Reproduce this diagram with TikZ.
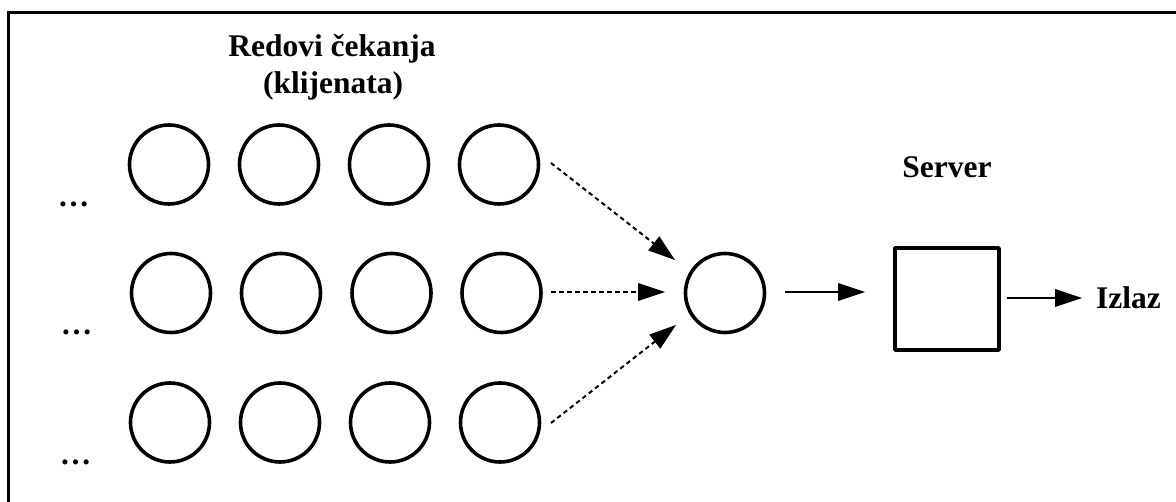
\documentclass[tikz,border=0pt]{standalone}
\usepackage{fontspec}
\setmainfont{Liberation Serif}
\usetikzlibrary{arrows.meta,calc}
\begin{document}
\begin{tikzpicture}[x=1pt,y=-1pt,
  qcirc/.style={draw,line width=3.6pt,circle,minimum size=79pt,inner sep=0pt},
  lbl/.style={font=\fontsize{31.5}{37}\selectfont\bfseries,inner sep=0pt,anchor=base},
  dotarrow/.style={line width=2pt,dash pattern=on 4.5pt off 3.5pt,-{Triangle[length=27pt,width=18pt,line width=0pt]}},
  solarrow/.style={line width=2pt,-{Triangle[length=27pt,width=18pt,line width=0pt]}}]
\useasboundingbox (0,0) rectangle (1176,502);
% frame (left and top edges visible)
\draw[line width=3pt] (8.5,502) -- (8.5,12.5) -- (1176,12.5);
% titles
\node[lbl] (t1) at (332,57) {Redovi čekanja};
\node[lbl] (t2) at (333,94) {(klijenata)};
\node[lbl] (srvlbl) at (947,178) {Server};
% queue circles
\foreach \c/\x in {1/169,2/279,3/389,4/499} \node[qcirc] (a\c) at (\x,164.5) {};
\foreach \c/\x in {1/171,2/281,3/391.5,4/501.5} \node[qcirc] (b\c) at (\x,293) {};
\foreach \c/\x in {1/170,2/280,3/390,4/500} \node[qcirc] (c\c) at (\x,422.5) {};
% ellipses
\node[lbl] (da) at (73.5,206.5) {…};
\node[lbl] (db) at (76.5,334.5) {…};
\node[lbl] (dc) at (75.5,464.5) {…};
% central circle
\node[qcirc] (m) at (725,293) {};
% server box
\node[draw,line width=3.6pt,line join=round,minimum width=104pt,minimum height=102pt,inner sep=0pt] (srv) at (947,299) {};
% output label
\node[lbl,anchor=base west] (out) at (1096,309) {Izlaz};
% arrow end points
\coordinate (s1) at (551,163);
\coordinate (e1) at (675,260);
\coordinate (s2) at (551,292);
\coordinate (e2) at (665,292);
\coordinate (s3) at (551,423);
\coordinate (e3) at (676,325);
\coordinate (s4) at (785,292);
\coordinate (e4) at (865,292);
\coordinate (s5) at (1007,298);
\coordinate (e5) at (1082,298);
\draw[dotarrow] (s1) -- (e1);
\draw[dotarrow] (s2) -- (e2);
\draw[dotarrow] (s3) -- (e3);
\draw[solarrow] (s4) -- (e4);
\draw[solarrow] (s5) -- (e5);
\end{tikzpicture}
\end{document}
